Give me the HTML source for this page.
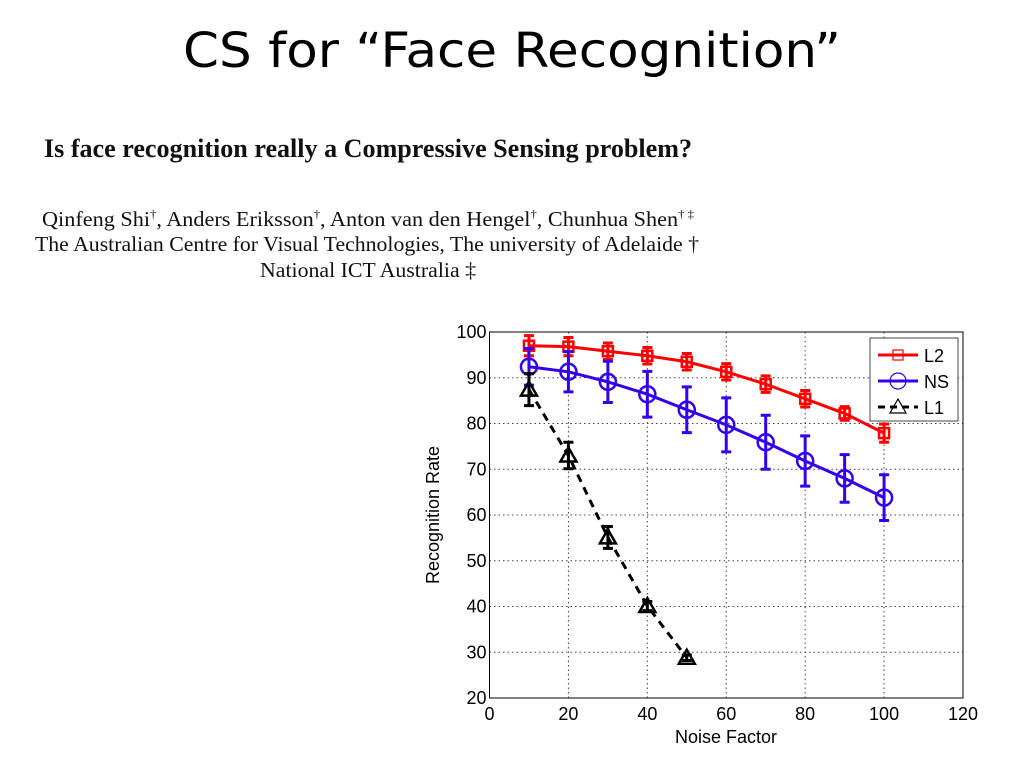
<!DOCTYPE html>
<html><head><meta charset="utf-8"><style>
html,body{margin:0;padding:0;background:#fff;width:1024px;height:768px;overflow:hidden}
svg{display:block}
</style></head><body>
<svg id="root" width="1024" height="768" xmlns="http://www.w3.org/2000/svg">
<text x="512" y="67" text-anchor="middle" font-family="DejaVu Sans, sans-serif" font-size="48" textLength="658" lengthAdjust="spacingAndGlyphs" fill="#000">CS for “Face Recognition”</text>
<g font-family="Liberation Serif, serif" fill="#111">
<text x="44" y="157" font-size="26" font-weight="bold" textLength="648" lengthAdjust="spacingAndGlyphs">Is face recognition really a Compressive Sensing problem?</text>
<text x="42" y="226" font-size="21" textLength="652" lengthAdjust="spacingAndGlyphs">Qinfeng Shi<tspan font-size="12" dy="-8">†</tspan><tspan dy="8">, Anders Eriksson</tspan><tspan font-size="12" dy="-8">†</tspan><tspan dy="8">, Anton van den Hengel</tspan><tspan font-size="12" dy="-8">†</tspan><tspan dy="8">, Chunhua Shen</tspan><tspan font-size="12" dy="-8">† ‡</tspan></text>
<text x="35" y="251" font-size="21" textLength="664" lengthAdjust="spacingAndGlyphs">The Australian Centre for Visual Technologies, The university of Adelaide †</text>
<text x="260" y="277" font-size="21" textLength="216" lengthAdjust="spacingAndGlyphs">National ICT Australia ‡</text>
</g>
<g id="chart"></g>
</svg>
<script>
const xCats = [10,20,30,40,50,60,70,80,90,100];
const l2Vals = [97.0,96.8,95.8,94.8,93.5,91.3,88.6,85.4,82.2,77.9];
const l2Err = [2.2,2.0,1.8,1.8,1.8,1.8,1.8,1.8,1.5,2.0];
const nsVals = [92.4,91.3,89.1,86.4,83.0,79.7,75.9,71.8,68.0,63.8];
const nsErr = [4.0,4.4,4.5,5.0,5.0,5.9,5.9,5.5,5.2,5.0];
const l1X = [10,20,30,40,50];
const l1Vals = [87.4,73.0,55.1,40.1,28.8];
const l1Err = [3.5,2.9,2.4,1.0,0.6];
const xTicks = [0,20,40,60,80,100,120];
const yTicks = [20,30,40,50,60,70,80,90,100];

const NS='http://www.w3.org/2000/svg';
const g=document.getElementById('chart');
const X0=489.5,X1=963,Y0=698,Y1=332;
const sx=v=>X0+(v-0)/(120-0)*(X1-X0);
const sy=v=>Y0-(v-20)/(100-20)*(Y0-Y1);
function el(t,a,p){const e=document.createElementNS(NS,t);for(const k in a)e.setAttribute(k,a[k]);(p||g).appendChild(e);return e;}

el('rect',{x:X0,y:Y1,width:X1-X0,height:Y0-Y1,fill:'#fff',stroke:'none'});
xTicks.forEach(v=>{
  if(v>0&&v<120){const l=el('line',{x1:sx(v),x2:sx(v),y1:Y1,y2:Y0,stroke:'#444','stroke-width':1,'stroke-dasharray':'1.5,3'});
  
  }
  const t=el('text',{x:sx(v),y:Y0+22,'text-anchor':'middle','font-family':'Liberation Sans, sans-serif','font-size':18,fill:'#000'});
  t.textContent=v;
  
  
});
yTicks.forEach(v=>{
  if(v>20&&v<100){const l=el('line',{x1:X0,x2:X1,y1:sy(v),y2:sy(v),stroke:'#444','stroke-width':1,'stroke-dasharray':'1.5,3'});
  
  }
  const t=el('text',{x:X0-3,y:sy(v)+6,'text-anchor':'end','font-family':'Liberation Sans, sans-serif','font-size':18,fill:'#000'});
  t.textContent=v;
  
  
});
const frame=el('rect',{x:X0,y:Y1,width:X1-X0,height:Y0-Y1,fill:'none',stroke:'#000','stroke-width':1});



const xt=el('text',{x:726,y:743,'text-anchor':'middle','font-family':'Liberation Sans, sans-serif','font-size':18,fill:'#000'});
xt.textContent='Noise Factor';


const yt=el('text',{x:0,y:0,'text-anchor':'middle','font-family':'Liberation Sans, sans-serif','font-size':18,fill:'#000',transform:'translate(439,515) rotate(-90)'});
yt.textContent='Recognition Rate';



function marker(type,cx,cy,color,parent){
  if(type==='sq')return el('rect',{x:cx-5,y:cy-5,width:10,height:10,fill:'none',stroke:color,'stroke-width':2.5},parent);
  if(type==='ci')return el('circle',{cx:cx,cy:cy,r:8,fill:'none',stroke:color,'stroke-width':2.5},parent);
  return el('polygon',{points:`${cx},${cy-8} ${cx-8},${cy+6} ${cx+8},${cy+6}`,fill:'none',stroke:color,'stroke-width':2.5},parent);
}
function series(name,xs,ys,es,color,type,dash){
  const sg=el('g',{});
  
  
  const pts=xs.map((x,i)=>sx(x)+','+sy(ys[i])).join(' ');
  const pl=el('polyline',{points:pts,fill:'none',stroke:color,'stroke-width':3,'stroke-dasharray':dash||'none'},sg);
  
  
  xs.forEach((x,i)=>{
    const cx=sx(x),t=sy(ys[i]+es[i]),b=sy(ys[i]-es[i]);
    const eb=el('path',{d:`M${cx},${t}V${b}M${cx-5},${t}H${cx+5}M${cx-5},${b}H${cx+5}`,stroke:color,'stroke-width':3,fill:'none'},sg);
    
    
    const m=marker(type,cx,sy(ys[i]),color,sg);
    
    
  });
}
series('l2',xCats,l2Vals,l2Err,'#f00','sq');
series('ns',xCats,nsVals,nsErr,'#3300ee','ci');
series('l1',l1X,l1Vals,l1Err,'#000','tr','8,6');

const lg=el('g',{});


el('rect',{x:870,y:338,width:88,height:83,fill:'#fff',stroke:'#444','stroke-width':1},lg);
[['L2','#f00','sq','none'],['NS','#3300ee','ci','none'],['L1','#000','tr','7,5']].forEach((d,i)=>{
  const y=355+i*26;
  const e=el('g',{},lg);
  
  
  el('line',{x1:878,x2:918,y1:y,y2:y,stroke:d[1],'stroke-width':3,'stroke-dasharray':d[3]},e);
  const m=marker(d[2],898,y,d[1],e); m.setAttribute('stroke-width',1.2);
  const t=el('text',{x:924,y:y+7,'font-family':'Liberation Sans, sans-serif','font-size':18,fill:'#000'},e);
  t.textContent=d[0];
});
</script>
</body></html>
